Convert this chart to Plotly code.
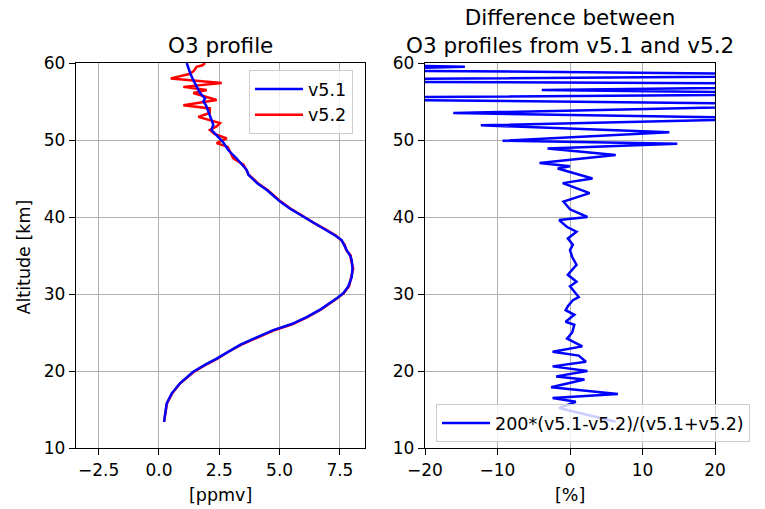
import plotly.graph_objects as go

# ---------------- data ----------------
alt_v51 = [13.4, 14.5, 15.8, 17.1, 18.4, 19.9, 20.8, 21.6, 22.5, 23.4, 24.3, 25.3, 26.1, 27.0,
           28.0, 28.8, 29.5, 30.1, 31.0, 32.2, 33.3, 34.4, 35.0, 35.7, 36.4, 37.0, 37.6, 38.5,
           39.3, 40.3, 41.1, 42.0, 42.8, 43.5, 44.3, 45.2, 45.5, 46.1, 46.8, 47.6, 48.7, 49.8,
           50.6, 51.3, 52.0, 52.6, 53.2, 53.9, 54.5, 55.0, 55.4, 56.1, 56.9, 57.8, 58.7, 59.4, 60.0]
v51 = [0.21, 0.26, 0.32, 0.53, 0.87, 1.42, 1.90, 2.39, 2.85, 3.36, 4.00, 4.74, 5.50, 6.12,
       6.70, 7.09, 7.40, 7.64, 7.85, 7.99, 8.02, 7.99, 7.92, 7.78, 7.68, 7.57, 7.30, 6.81,
       6.35, 5.85, 5.42, 5.02, 4.72, 4.47, 4.10, 3.77, 3.70, 3.64, 3.45, 3.22, 2.87, 2.64,
       2.39, 2.18, 2.25, 2.18, 2.10, 2.04, 1.95, 1.84, 1.91, 1.70, 1.56, 1.42, 1.29, 1.20, 1.15]

alt_v52 = [13.4, 14.5, 15.8, 17.1, 18.4, 19.9, 20.8, 21.6, 22.5, 23.4, 24.3, 25.3, 26.1, 27.0,
           28.0, 28.8, 29.5, 30.1, 31.0, 32.2, 33.3, 34.4, 35.0, 35.7, 36.4, 37.0, 37.6, 38.5,
           39.3, 40.3, 41.1, 42.0, 42.8, 43.5, 44.3, 45.2, 45.5, 46.1, 46.8, 47.6, 48.5, 49.1,
           49.6, 50.2, 50.8, 51.3, 51.8, 52.2, 53.0, 53.5, 54.1, 54.5, 55.2, 56.1, 56.5, 56.9,
           57.4, 58.0, 58.6, 59.0, 59.5, 59.7, 60.0]
v52 = [0.21, 0.27, 0.33, 0.55, 0.88, 1.45, 1.93, 2.42, 2.88, 3.40, 4.05, 4.78, 5.55, 6.15,
       6.72, 7.12, 7.42, 7.66, 7.88, 7.97, 8.05, 7.96, 7.95, 7.76, 7.70, 7.55, 7.33, 6.85,
       6.38, 5.88, 5.45, 5.05, 4.74, 4.50, 4.13, 3.80, 3.72, 3.62, 3.50, 3.08, 2.94, 2.85,
       2.39, 2.81, 2.30, 2.11, 2.40, 2.53, 1.63, 2.10, 2.11, 1.01, 2.39, 1.42, 1.98, 1.01,
       2.60, 0.49, 1.30, 1.45, 1.56, 1.80, 1.91]

alt_diff = [13.4, 15.2, 16.0, 16.5, 17.0, 17.9, 18.9, 19.3, 20.0, 20.6, 21.2, 22.0, 22.5, 23.2,
            24.2, 25.0, 26.0, 26.4, 27.3, 27.9, 28.4, 29.2, 29.6, 31.0, 31.6, 32.5, 33.8, 34.8,
            35.7, 36.4, 37.2, 38.1, 38.7, 39.6, 40.0, 41.0, 42.0, 43.1, 44.4, 45.0, 46.3, 46.6,
            47.0, 48.05, 48.9, 49.5, 49.9, 51.0, 51.9, 52.8, 53.5, 54.6, 55.4, 56.0, 56.5, 57.2,
            57.7, 58.4, 59.1, 59.5, 59.8]
diff = [6.3, -1.5, 0.8, -2.4, 6.6, -2.6, 2.0, -1.9, 2.4, -2.4, 2.2, 1.2, -2.4, 1.7,
        -0.4, 0.3, 0.6, -0.6, 0.6, -0.6, -0.3, 0.4, 1.2, 0.0, 0.9, -0.3, 0.9, 0.3,
        0.0, 0.4, -0.3, 0.9, -0.4, -1.5, 2.4, 0.0, -0.9, 2.7, -1.0, 3.1, -1.7, 0.0,
        -4.2, 6.3, -3.1, 14.8, -9.3, 13.7, -12.3, 30.0, -16.1, 40.0, -45.0, 40.0, -3.9, 60.0,
        -60.0, 50.0, -35.0, -14.5, -30.0]

x1_ticks = [-2.5, 0.0, 2.5, 5.0, 7.5]
x2_ticks = [-20, -10, 0, 10, 20]
y_ticks = [10, 20, 30, 40, 50, 60]

# ---------------- figure ----------------
W, H = 765, 509
FONT = "DejaVu Sans"
TICK = 17
LAB = 17.5
TITLE = 21.5

fig = go.Figure()
fig.add_trace(go.Scatter(x=v52, y=alt_v52, mode="lines", name="v5.2",
                         line=dict(color="red", width=2.5), xaxis="x", yaxis="y",
                         legend="legend", legendrank=2))
fig.add_trace(go.Scatter(x=v51, y=alt_v51, mode="lines", name="v5.1",
                         line=dict(color="blue", width=2.5), xaxis="x", yaxis="y",
                         legend="legend", legendrank=1))
fig.add_trace(go.Scatter(x=diff, y=alt_diff, mode="lines", name="200*(v5.1-v5.2)/(v5.1+v5.2)",
                         line=dict(color="blue", width=2.5), xaxis="x2", yaxis="y2",
                         legend="legend2"))

def px_x(p):
    return p / W

def px_y(p):
    return (H - p) / H

ax_common = dict(showline=True, linecolor="black", linewidth=1.3, mirror=True,
                 ticks="outside", ticklen=6, tickwidth=1.3, tickcolor="black",
                 showgrid=True, gridcolor="#b0b0b0", gridwidth=1.3, zeroline=False,
                 automargin=False,
                 tickfont=dict(family=FONT, size=TICK, color="black"))

ydom = [px_y(448), px_y(63)]
fig.update_layout(
    template="none",
    width=W, height=H, margin=dict(l=0, r=0, t=0, b=0, autoexpand=False),
    paper_bgcolor="white", plot_bgcolor="white",
    font=dict(family=FONT, size=TICK, color="black"),
    xaxis=dict(domain=[px_x(76), px_x(365)], range=[-3.44, 8.54], tickvals=x1_ticks,
               tickformat=".1f", anchor="y", **ax_common),
    yaxis=dict(domain=ydom, range=[10, 60], tickvals=y_ticks, anchor="x", **ax_common),
    xaxis2=dict(domain=[px_x(425), px_x(715)], range=[-20, 20], tickvals=x2_ticks,
                anchor="y2", **ax_common),
    yaxis2=dict(domain=ydom, range=[10, 60], tickvals=y_ticks, anchor="x2", **ax_common),
    legend=dict(x=px_x(249), y=px_y(70), xanchor="left", yanchor="top", itemwidth=48,
                bgcolor="rgba(255,255,255,0.8)", bordercolor="#cccccc", borderwidth=1,
                font=dict(family=FONT, size=LAB, color="black")),
    legend2=dict(x=px_x(436), y=px_y(442), xanchor="left", yanchor="bottom", itemwidth=48,
                 bgcolor="rgba(255,255,255,0.8)", bordercolor="#cccccc", borderwidth=1,
                 font=dict(family=FONT, size=LAB, color="black")),
    showlegend=True,
)

annots = [
    dict(text="O3 profile", x=px_x(220.5), y=px_y(60.5), xanchor="center", yanchor="bottom",
         size=TITLE),
    dict(text="Difference between<br>O3 profiles from v5.1 and v5.2", x=px_x(570), y=px_y(60.5),
         xanchor="center", yanchor="bottom", size=TITLE),
    dict(text="[ppmv]", x=px_x(220.5), y=px_y(495), xanchor="center", yanchor="middle",
         size=LAB),
    dict(text="[%]", x=px_x(570), y=px_y(495), xanchor="center", yanchor="middle",
         size=LAB),
    dict(text="Altitude [km]", x=px_x(23.5), y=px_y(257), xanchor="center", yanchor="middle",
         textangle=-90, size=LAB),
]
final = []
for a in annots:
    s = a.pop("size")
    a.update(xref="paper", yref="paper", showarrow=False,
             font=dict(family=FONT, color="black", size=s))
    final.append(a)
fig.update_layout(annotations=final)

fig.write_html("out.html")
